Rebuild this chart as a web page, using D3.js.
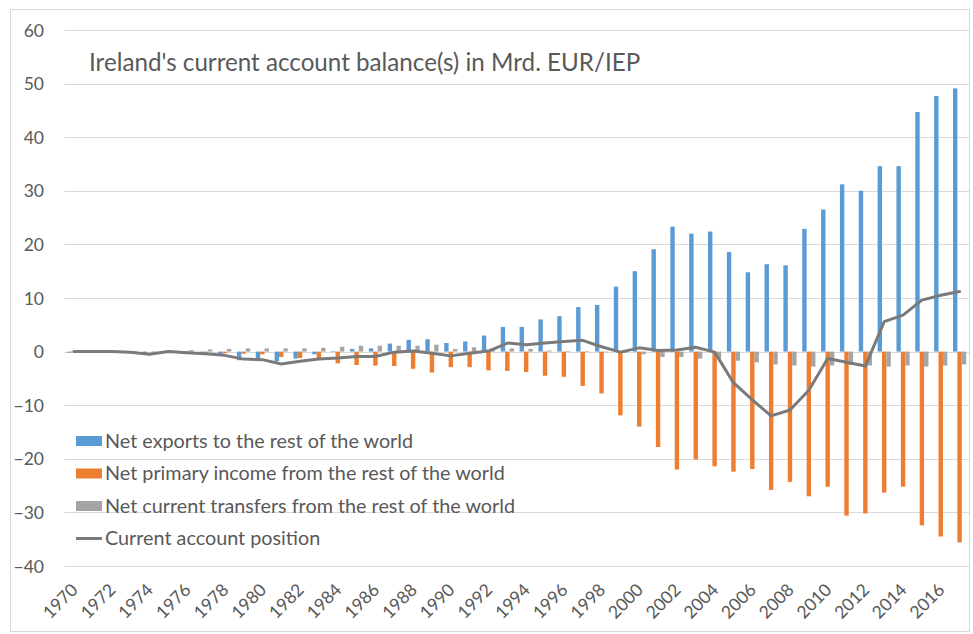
<!DOCTYPE html>
<html>
<head>
<meta charset="utf-8">
<script src="https://cdn.jsdelivr.net/npm/d3@7"></script>
<style>
  html, body { margin: 0; padding: 0; background: #fff; }
  svg text { font-family: Lato, "Liberation Sans", sans-serif; fill: #595959; }
</style>
</head>
<body>
<svg id="chart" width="973" height="634"></svg>
<script>
const years = d3.range(1970, 2018).map(String);
const tickLabels = years.filter((y, i) => i % 2 === 0);
const yTicks = [-40, -30, -20, -10, 0, 10, 20, 30, 40, 50, 60];

const netExports = [
  -0.2, 0.0, 0.0, -0.1, -0.3, -0.1, -0.2, -0.5, -0.8, -1.6,
  -1.5, -1.8, -1.3, -0.5, 0.1, 0.5, 0.6, 1.5, 2.2, 2.3,
  1.6, 1.9, 3.0, 4.6, 4.6, 6.0, 6.6, 8.3, 8.7, 12.1,
  15.0, 19.1, 23.3, 22.0, 22.4, 18.6, 14.8, 16.3, 16.1, 22.9,
  26.5, 31.2, 30.0, 34.6, 34.6, 44.7, 47.7, 49.1
];
const primaryIncome = [
  0.1, 0.1, 0.1, 0.0, 0.0, 0.0, 0.1, -0.2, -0.3, -0.4,
  -0.5, -1.0, -1.2, -1.4, -2.2, -2.5, -2.6, -2.7, -3.2, -3.9,
  -2.9, -2.9, -3.5, -3.6, -3.8, -4.5, -4.7, -6.4, -7.8, -11.9,
  -14.0, -17.8, -22.0, -20.1, -21.4, -22.4, -21.9, -25.8, -24.3, -27.0,
  -25.2, -30.6, -30.2, -26.3, -25.2, -32.4, -34.5, -35.6
];
const transfers = [
  0.1, 0.1, 0.1, 0.1, 0.1, 0.2, 0.3, 0.4, 0.5, 0.6,
  0.6, 0.6, 0.6, 0.7, 0.9, 1.1, 1.1, 1.1, 1.1, 1.3,
  0.5, 0.8, 0.6, 0.6, 0.5, 0.2, 0.1, 0.1, -0.1, -0.2,
  -0.5, -1.0, -1.0, -1.3, -1.3, -1.7, -2.0, -2.4, -2.6, -2.8,
  -2.6, -2.5, -2.6, -2.8, -2.6, -2.8, -2.6, -2.4
];
const currentAccount = [
  0.0, 0.0, 0.0, -0.1, -0.5, 0.0, -0.2, -0.4, -0.7, -1.4,
  -1.5, -2.3, -1.8, -1.4, -1.2, -0.9, -0.9, -0.1, 0.1, -0.3,
  -0.8, -0.3, 0.1, 1.6, 1.3, 1.6, 1.9, 2.1, 0.9, -0.1,
  0.7, 0.2, 0.3, 0.8, -0.1, -5.8, -9.0, -12.0, -10.9, -7.2,
  -1.3, -2.0, -2.7, 5.6, 6.8, 9.6, 10.5, 11.2
];

const barSeries = [
  { name: "Net exports to the rest of the world", values: netExports, color: "#5b9bd5" },
  { name: "Net primary income from the rest of the world", values: primaryIncome, color: "#ed7d31" },
  { name: "Net current transfers from the rest of the world", values: transfers, color: "#a5a5a5" }
];
const lineName = "Current account position";
const lineColor = "#7a7a7a";
const titleText = "Ireland's current account balance(s) in Mrd. EUR/IEP";

const svg = d3.select("#chart");

// outer frame
svg.append("rect").attr("x", 10.5).attr("y", 9.5).attr("width", 959).attr("height", 622)
  .attr("fill", "none").attr("stroke", "#d9d9d9").attr("stroke-width", 1);

const plot = { left: 64.5, right: 969, top: 30, bottom: 566 };

const x = d3.scaleBand().domain(years).range([plot.left, plot.right]).padding(0);
const x1 = d3.scaleBand().domain(barSeries.map(s => s.name))
  .range([x.bandwidth() * 0.15, x.bandwidth() * 0.85]).padding(0);
const y = d3.scaleLinear().domain([-40, 60]).range([plot.bottom, plot.top]);

// gridlines
svg.append("g").selectAll("line").data(yTicks).join("line")
  .attr("x1", plot.left).attr("x2", plot.right)
  .attr("y1", d => Math.round(y(d)) + 0.5).attr("y2", d => Math.round(y(d)) + 0.5)
  .attr("stroke", "#d9d9d9").attr("stroke-width", 1);

// y axis labels
const yAxis = d3.axisLeft(y).tickValues(yTicks).tickSize(0).tickPadding(0);
const yg = svg.append("g").attr("transform", `translate(44,0)`).call(yAxis);
yg.select(".domain").remove();
yg.selectAll("text").attr("font-size", 17.5).attr("dy", "0.35em")
  .style("font-family", "Lato, sans-serif").attr("fill", "#595959");

// bars
const groups = svg.append("g").selectAll("g").data(years).join("g")
  .attr("transform", d => `translate(${x(d)},0)`);
groups.selectAll("rect")
  .data((d, i) => barSeries.map(s => ({ s, v: s.values[i] })))
  .join("rect")
  .attr("x", d => x1(d.s.name))
  .attr("width", x1.bandwidth())
  .attr("y", d => y(Math.max(0, d.v)))
  .attr("height", d => Math.abs(y(d.v) - y(0)))
  .attr("fill", d => d.s.color);

// line
const line = d3.line()
  .x((d, i) => x(years[i]) + x.bandwidth() / 2)
  .y(d => y(d));
svg.append("path").datum(currentAccount)
  .attr("d", line).attr("fill", "none")
  .attr("stroke", lineColor).attr("stroke-width", 3)
  .attr("stroke-linejoin", "round").attr("stroke-linecap", "round");

// x axis labels
const xAxis = d3.axisBottom(x).tickValues(tickLabels).tickSize(0).tickPadding(0);
const xg = svg.append("g").attr("transform", `translate(0,${plot.bottom})`).call(xAxis);
xg.select(".domain").remove();
xg.selectAll("text")
  .attr("font-size", 17.5)
  .style("font-family", "Lato, sans-serif")
  .attr("fill", "#595959")
  .attr("text-anchor", "end")
  .attr("dy", 0).attr("y", 0)
  .attr("transform", "translate(5,25) rotate(-45)");

// title
svg.append("text").attr("x", 89).attr("y", 71)
  .attr("font-size", 24.2).text(titleText);

// legend
const legendItems = barSeries.map(s => ({ name: s.name, color: s.color, type: "bar" }))
  .concat([{ name: lineName, color: lineColor, type: "line" }]);
const lg = svg.append("g").selectAll("g").data(legendItems).join("g")
  .attr("transform", (d, i) => `translate(76,${441 + i * 32.5})`);
lg.filter(d => d.type === "bar").append("rect")
  .attr("x", 0).attr("y", -5).attr("width", 26).attr("height", 10)
  .attr("fill", d => d.color);
lg.filter(d => d.type === "line").append("line")
  .attr("x1", 0).attr("x2", 26).attr("y1", 0).attr("y2", 0)
  .attr("stroke", d => d.color).attr("stroke-width", 3);
lg.append("text").attr("x", 29).attr("y", 0).attr("dy", "0.34em")
  .attr("font-size", 19.8).text(d => d.name);
</script>
</body>
</html>
